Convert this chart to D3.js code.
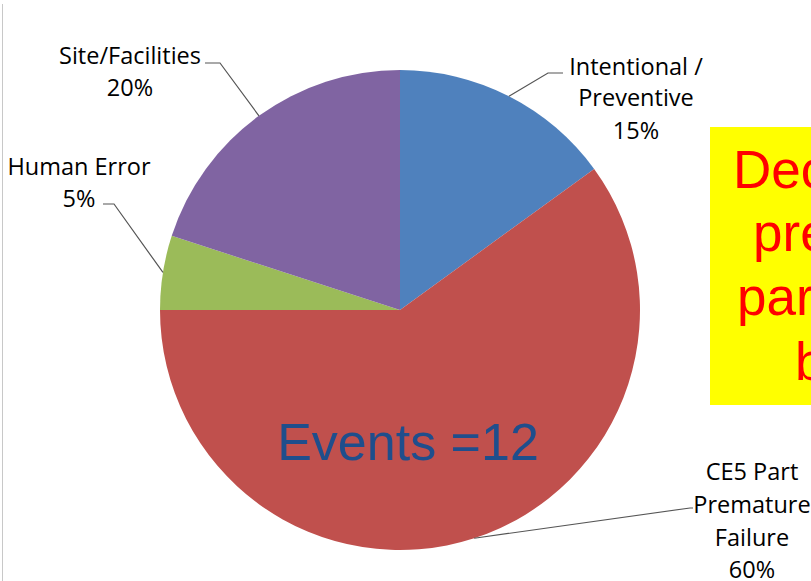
<!DOCTYPE html>
<html>
<head>
<meta charset="utf-8">
<script src="https://cdn.jsdelivr.net/npm/d3@7"></script>
<style>
  html, body { margin: 0; padding: 0; background: #ffffff; overflow: hidden; }
  svg { display: block; }
</style>
</head>
<body>
<svg id="chart" width="811" height="581"></svg>
<script>
// Data
const categories = ["Intentional / Preventive", "CE5 Part Premature Failure", "Human Error", "Site/Facilities"];
const values = [15, 60, 5, 20];
const labelLines = [
  ["Intentional /", "Preventive", "15%"],
  ["CE5 Part", "Premature", "Failure", "60%"],
  ["Human Error", "5%"],
  ["Site/Facilities", "20%"]
];
const colors = ["#4F81BD", "#C0504D", "#9BBB59", "#8064A2"];
const centerText = "Events =12";
const calloutLines = ["Dec", "pre", "par", "b"];

const svg = d3.select("#chart");
const W = 811, H = 581;
const cx = 400, cy = 310, R = 240;

// left border line
svg.append("line")
  .attr("x1", 2.5).attr("x2", 2.5).attr("y1", 4).attr("y2", H)
  .attr("stroke", "#c8c8c8").attr("stroke-width", 1);

const pie = d3.pie().sort(null).value(d => d)(values);
const arc = d3.arc().innerRadius(0).outerRadius(R);

const g = svg.append("g").attr("transform", `translate(${cx},${cy})`);
g.selectAll("path").data(pie).enter().append("path")
  .attr("d", arc)
  .attr("fill", (d, i) => colors[i]);

// Label layout (text anchors and leader line elbows)
const labelPos = [
  { x: 636, ys: [75, 106, 139], elbow: [563, 73], start: [548, 73] },
  { x: 752, ys: [480, 513, 546, 578], elbow: [693, 508], start: [690, 508] },
  { x: 79, ys: [175, 207], elbow: [103, 204], start: [114, 204] },
  { x: 130, ys: [64, 96], elbow: [205, 63], start: [220, 63] }
];

const outerPt = d3.arc().innerRadius(R).outerRadius(R);
pie.forEach((d, i) => {
  const p = outerPt.centroid(d);
  const lp = labelPos[i];
  const pts = [lp.elbow, lp.start, [cx + p[0], cy + p[1]]];
  svg.append("path")
    .attr("d", d3.line()(pts))
    .attr("fill", "none")
    .attr("stroke", "#555")
    .attr("stroke-width", 1.2);
  const t = svg.append("text")
    .attr("font-family", "'Open Sans', Lato, sans-serif")
    .attr("font-size", 23.5)
    .attr("fill", "#000")
    .attr("text-anchor", "middle");
  labelLines[i].forEach((line, j) => {
    t.append("tspan").attr("x", lp.x).attr("y", lp.ys[j]).text(line);
  });
});

// Center text
svg.append("text")
  .attr("x", 408).attr("y", 460)
  .attr("text-anchor", "middle")
  .attr("font-family", "Liberation Sans, Arial, sans-serif")
  .attr("font-size", 52)
  .attr("fill", "#1F4E8C")
  .text(centerText);

// Yellow callout (clipped at right edge, as in the reference)
svg.append("rect")
  .attr("x", 710).attr("y", 127).attr("width", 120).attr("height", 278)
  .attr("fill", "#FFFF00");
const cxs = [733, 753, 737, 795];
const cys = [188, 251, 315, 380];
calloutLines.forEach((s, i) => {
  svg.append("text")
    .attr("x", cxs[i]).attr("y", cys[i])
    .attr("font-family", "Liberation Sans, Arial, sans-serif")
    .attr("font-size", 53)
    .attr("fill", "#FF0000")
    .text(s);
});
</script>
</body>
</html>
